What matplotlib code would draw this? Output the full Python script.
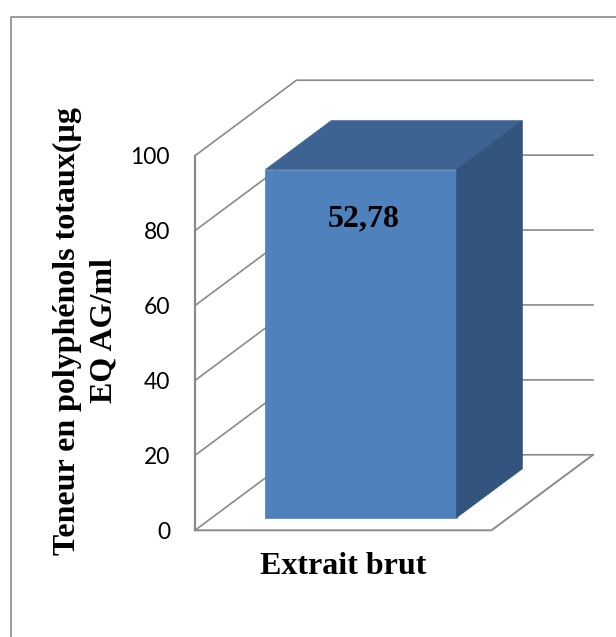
import matplotlib
matplotlib.use("Agg")
import matplotlib.pyplot as plt
from matplotlib.lines import Line2D

categories = ["Extrait brut"]
bar_values = [52.78]
bar_labels = ["52,78"]
y_ticks = [0, 20, 40, 60, 80, 100]
y_title = "Teneur en polyphénols totaux(µg\nEQ AG/ml"

W, H = 616, 637
GREY = "#8a8a8a"
FRONT, TOP, SIDE = "#4f81bd", "#3d6392", "#32547d"
SERIF = "Liberation Serif"

fig = plt.figure(figsize=(W / 100, H / 100), dpi=100, facecolor="white")

# Outer chart frame, running off the canvas at the right and bottom
fig.add_artist(Line2D([10.5 / W, 10.5 / W, 1],
                      [0, 1 - 16.7 / H, 1 - 16.7 / H], color=GREY, lw=1.2))

# Front plane of the 3D box: x runs 0..1 across the category, y is the printed scale
L, R, Y0, Y100 = 195.0, 491.5, 530.3, 155.7
ax = fig.add_axes([L / W, 1 - Y0 / H, (R - L) / W, (Y0 - Y100) / H])
ax.set_xlim(0, 1)
ax.set_ylim(0, 100)
ax.patch.set_visible(False)
for s in ax.spines.values():
    s.set_visible(False)

DEPTH_X = 101.5 / (R - L)
DEPTH_RISE = 75.5 / (Y0 - Y100)


def project(x, y, d, top):
    """Oblique projection: depth d in 0..1 shifts right and up; top is the axis ceiling."""
    return x + d * DEPTH_X, y + d * DEPTH_RISE * top


# Walls and floor
for t in y_ticks:
    xs, ys = zip(project(0, t, 0, 100), project(0, t, 1, 100), project(1, t, 1, 100))
    ax.plot(xs, ys, color=GREY, lw=1.2, clip_on=False, zorder=1)
ax.plot([0, 0], [0, 100], color=GREY, lw=1.6, clip_on=False, zorder=1)
xs, ys = zip(project(0, 0, 0, 100), project(1, 0, 0, 100), project(1, 0, 1, 100))
ax.plot(xs, ys, color=GREY, lw=1.4, clip_on=False, zorder=1)

ax.set_yticks(y_ticks)
ax.set_yticklabels([str(t) for t in y_ticks], fontname="Lato", fontsize=16.5, color="black")
ax.tick_params(axis="y", length=0, pad=18)
ax.set_xticks([0.5])
ax.set_xticklabels(categories, fontname=SERIF, fontweight="bold", fontsize=23)
ax.tick_params(axis="x", length=0, pad=15.5)

# The column has its own value scale: it is not read against the printed 0-100 ticks
bar_ax = ax.twinx()
BAR_CEILING = 56.8
bar_ax.set_ylim(0, BAR_CEILING)
bar_ax.axis("off")

x0, x1 = 0.18, 0.825
d0, d1 = 0.168, 0.815
v = bar_values[0]


def face(points, color):
    xs, ys = zip(*[project(x, y, d, BAR_CEILING) for x, y, d in points])
    bar_ax.fill(xs, ys, color=color, lw=0.5, clip_on=False, zorder=3)


face([(x0, 0, d0), (x1, 0, d0), (x1, v, d0), (x0, v, d0)], FRONT)
face([(x0, v, d0), (x1, v, d0), (x1, v, d1), (x0, v, d1)], TOP)
face([(x1, 0, d0), (x1, 0, d1), (x1, v, d1), (x1, v, d0)], SIDE)

lx, ly = project((x0 + x1) / 2, v * 0.857, d0, BAR_CEILING)
bar_ax.text(lx + 0.01, ly, bar_labels[0], ha="center", va="center", fontname=SERIF,
            fontweight="bold", fontsize=23, color="black", zorder=4)

fig.text(86 / W, 1 - 331 / H, y_title, rotation=90, ha="center", va="center",
         multialignment="center", fontname=SERIF, fontweight="bold", fontsize=23,
         linespacing=1.34, color="black")

fig.savefig("out.png", dpi=100)
